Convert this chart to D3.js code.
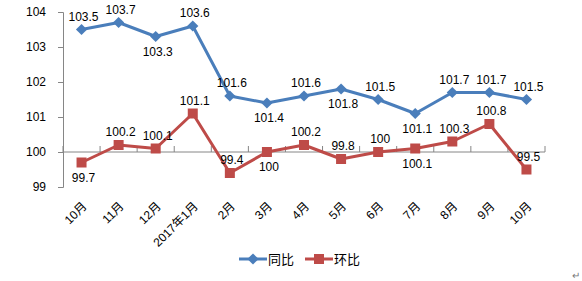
<!DOCTYPE html>
<html>
<head>
<meta charset="utf-8">
<script src="https://cdn.jsdelivr.net/npm/d3@7"></script>
<style>
  body { margin: 0; background: #fff; }
  text { font-family: "Liberation Sans", "Noto Sans CJK SC", sans-serif; fill: #000; }
</style>
</head>
<body>
<svg width="582" height="281"></svg>
<script>
const months = ["10月", "11月", "12月", "2017年1月", "2月", "3月", "4月", "5月", "6月", "7月", "8月", "9月", "10月"];
const yoy = [103.5, 103.7, 103.3, 103.6, 101.6, 101.4, 101.6, 101.8, 101.5, 101.1, 101.7, 101.7, 101.5];
const mom = [99.7, 100.2, 100.1, 101.1, 99.4, 100, 100.2, 99.8, 100, 100.1, 100.3, 100.8, 99.5];
const yTicks = [99, 100, 101, 102, 103, 104];
const seriesNames = ["同比", "环比"];
// 1 = label above the point, 0 = below
const yoySide = [1, 1, 0, 1, 1, 0, 1, 0, 1, 0, 1, 1, 1];
const momSide = [0, 1, 1, 1, 1, 0, 1, 1, 1, 0, 1, 1, 1];

const blue = "#4a7ebb";
const red = "#be4b48";

const svg = d3.select("svg");

// scales
const x = d3.scaleBand()
  .domain(months.map((d, i) => i))
  .range([63, 545]);

const y = d3.scaleLinear()
  .domain([99, 104])
  .range([187, 12]);

const cx = i => x(i) + x.bandwidth() / 2;

// y axis
const yAxis = d3.axisLeft(y)
  .tickValues(yTicks)
  .tickFormat(d3.format("d"))
  .tickSize(5)
  .tickPadding(12);
const gy = svg.append("g")
  .attr("transform", "translate(63,0)")
  .call(yAxis);
gy.select(".domain").attr("stroke", "#868686");
gy.selectAll(".tick line").attr("stroke", "#868686");
gy.selectAll(".tick text").style("font-size", "12px");

// category axis crossing at 100
const gx = svg.append("g")
  .attr("transform", `translate(0,${y(100)})`);
gx.append("line")
  .attr("x1", 63).attr("x2", 545)
  .attr("stroke", "#868686");
gx.selectAll(".cat-tick")
  .data(d3.range(months.length + 1))
  .enter()
  .append("line")
  .attr("x1", i => 63 + i * x.step())
  .attr("x2", i => 63 + i * x.step())
  .attr("y1", -6).attr("y2", 0)
  .attr("stroke", "#868686");

// category labels at bottom
svg.selectAll(".cat")
  .data(months)
  .enter()
  .append("text")
  .attr("text-anchor", "end")
  .attr("transform", (d, i) => `translate(${cx(i) + 6},${y(99) + 20}) rotate(-45)`)
  .style("font-size", "12px")
  .text(d => d);

// lines
const line = d3.line()
  .x((d, i) => cx(i))
  .y(d => y(d));

svg.append("path")
  .datum(yoy)
  .attr("d", line)
  .attr("fill", "none")
  .attr("stroke", blue)
  .attr("stroke-width", 3)
  .attr("stroke-linejoin", "round");

svg.append("path")
  .datum(mom)
  .attr("d", line)
  .attr("fill", "none")
  .attr("stroke", red)
  .attr("stroke-width", 3)
  .attr("stroke-linejoin", "round");

// markers
const diamond = d3.symbol().type(d3.symbolDiamond2).size(80);
svg.selectAll(".dm")
  .data(yoy)
  .enter()
  .append("path")
  .attr("d", diamond)
  .attr("transform", (d, i) => `translate(${cx(i)},${y(d)})`)
  .attr("fill", blue);

svg.selectAll(".sq")
  .data(mom)
  .enter()
  .append("rect")
  .attr("x", (d, i) => cx(i) - 5)
  .attr("y", d => y(d) - 5)
  .attr("width", 10)
  .attr("height", 10)
  .attr("fill", red);

// data labels
function labels(data, side) {
  svg.append("g").selectAll("text")
    .data(data)
    .enter()
    .append("text")
    .attr("text-anchor", "middle")
    .attr("x", (d, i) => cx(i) + 2)
    .attr("y", (d, i) => side[i] ? y(d) - 9 : y(d) + 19)
    .style("font-size", "12px")
    .text(d => d);
}
labels(yoy, yoySide);
labels(mom, momSide);

// legend
const legend = svg.append("g").attr("transform", "translate(239,259)");
const lg = legend.selectAll("g")
  .data(seriesNames)
  .enter()
  .append("g")
  .attr("transform", (d, i) => `translate(${i * 66},0)`);
lg.append("line")
  .attr("x1", 0).attr("x2", 28)
  .attr("stroke", (d, i) => i ? red : blue)
  .attr("stroke-width", 3);
lg.filter((d, i) => i === 0).append("path")
  .attr("d", diamond)
  .attr("transform", "translate(14,0)")
  .attr("fill", blue);
lg.filter((d, i) => i === 1).append("rect")
  .attr("x", 9).attr("y", -5)
  .attr("width", 10).attr("height", 10)
  .attr("fill", red);
lg.append("text")
  .attr("x", 29)
  .attr("y", 5)
  .style("font-size", "13px")
  .style("font-family", "'Noto Sans CJK SC', sans-serif")
  .text(d => d);

svg.append("text")
  .attr("x", 572).attr("y", 279)
  .style("font-size", "10px")
  .style("fill", "#777")
  .text("↵");
</script>
</body>
</html>
